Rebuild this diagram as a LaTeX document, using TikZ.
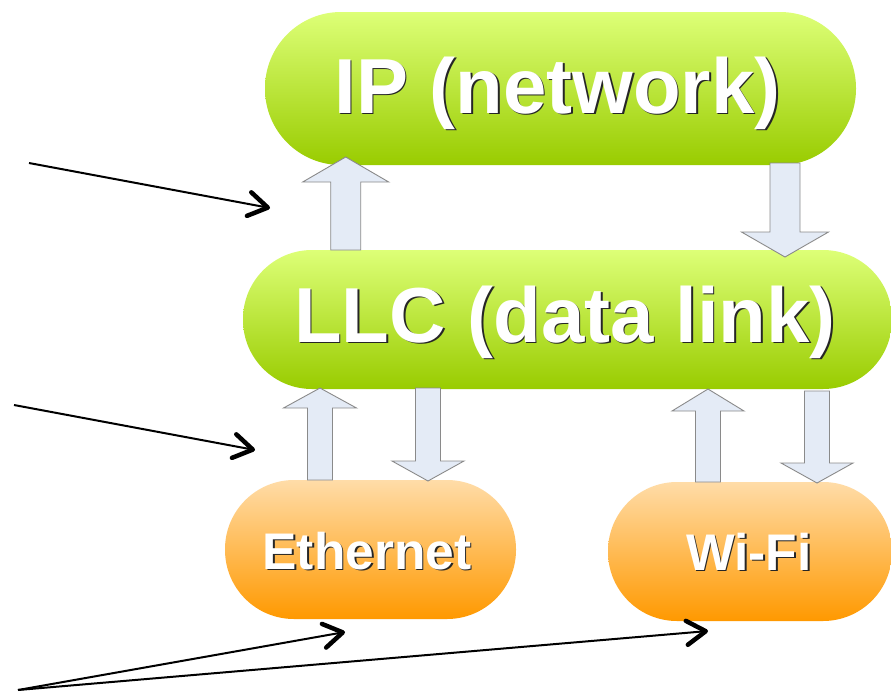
\documentclass[tikz,border=0pt]{standalone}
\usepackage{fontspec}
\setmainfont{Liberation Sans}
\usetikzlibrary{arrows.meta}

\definecolor{limetop}{HTML}{DDFF77}
\definecolor{limebot}{HTML}{99CC00}
\definecolor{orangetop}{HTML}{FFDCA8}
\definecolor{orangebot}{HTML}{FF9900}
\definecolor{flowfill}{HTML}{E4EBF6}
\definecolor{flowedge}{HTML}{8A8A8A}

% white label with a dark drop shadow
\newcommand{\embossed}[1]{\makebox[0pt][l]{\kern1.6pt\raisebox{-1.6pt}{\color{black!85}#1}}#1}

% hollow block arrow: x, tail y, head-base y, tip y, head half-width, shaft half-width
\newcommand{\flowarrow}[6]{%
  \draw[flowarrow] (#1-#6,#2) -- (#1-#6,#3) -- (#1-#5,#3) -- (#1,#4)
    -- (#1+#5,#3) -- (#1+#6,#3) -- (#1+#6,#2) -- cycle;}

\begin{document}
\begin{tikzpicture}[x=1pt,y=-1pt,
  pill/.style={rectangle, draw=none, inner sep=0pt},
  greenpill/.style={pill, top color=limetop, bottom color=limebot},
  orangepill/.style={pill, top color=orangetop, bottom color=orangebot},
  biglabel/.style={anchor=base, text=white, font=\bfseries\fontsize{78}{80}\selectfont, inner sep=0pt},
  smalllabel/.style={anchor=base, text=white, font=\bfseries\fontsize{51.5}{54}\selectfont, inner sep=0pt},
  flowarrow/.style={fill=flowfill, draw=flowedge, line width=0.9pt, line join=miter},
  pointer/.style={draw=black, line width=2pt,
    -{Straight Barb[length=19pt, width=24pt, line width'=4.5pt, round]}}]

\useasboundingbox (0,0) rectangle (891,691);

% protocol layers
\node[greenpill, minimum width=591pt, minimum height=153pt, rounded corners=76pt] (ip) at (560.5,88.5) {};
\node[greenpill, minimum width=649pt, minimum height=139pt, rounded corners=69pt] (llc) at (567.5,319.5) {};
\node[orangepill, minimum width=291pt, minimum height=139pt, rounded corners=69pt] (eth) at (370.5,549.5) {};
\node[orangepill, minimum width=284pt, minimum height=139pt, rounded corners=69pt] (wifi) at (750,551.5) {};

\node[biglabel] (iptext) at (557.5,113) {\embossed{IP (network)}};
\node[biglabel] (llctext) at (565,342) {\embossed{LLC (data link)}};
\node[smalllabel] (ethtext) at (367,569) {\embossed{Ethernet}};
\node[smalllabel] (wifitext) at (749,570) {\embossed{Wi-Fi}};

% data flow between layers
\flowarrow{345.7}{250}{182}{157}{43}{15}
\flowarrow{785}{163}{232}{257}{43.5}{15}
\flowarrow{320}{480}{408}{388}{36.5}{12.5}
\flowarrow{428}{388}{461}{481}{36}{12.5}
\flowarrow{708}{482}{411}{389}{36}{12.5}
\flowarrow{817}{391}{463}{483}{36}{12.5}

% pointers
\coordinate (p1) at (29,163);
\coordinate (q1) at (270,208);
\coordinate (p2) at (14,405);
\coordinate (q2) at (255,450);
\coordinate (p3) at (18,690);
\coordinate (q3) at (345,632);
\coordinate (q4) at (708,631);

\draw[pointer] (p1) -- (q1);
\draw[pointer] (p2) -- (q2);
\draw[pointer] (p3) -- (q3);
\draw[pointer] (p3) -- (q4);

\end{tikzpicture}
\end{document}
